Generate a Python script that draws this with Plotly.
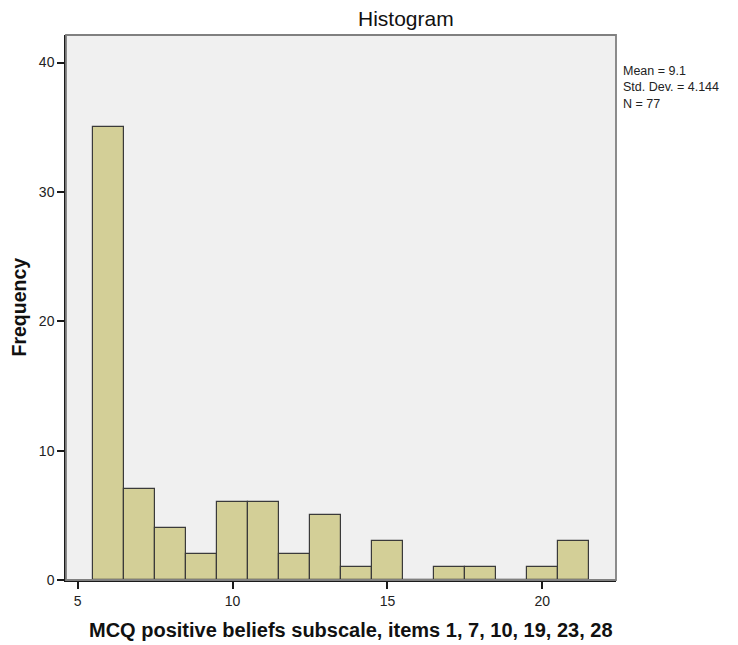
import plotly.graph_objects as go

# Data (bin centres, width 1)
bin_centers = [6, 7, 8, 9, 10, 11, 12, 13, 14, 15, 16, 17, 18, 19, 20, 21]
counts = [35, 7, 4, 2, 6, 6, 2, 5, 1, 3, 0, 1, 1, 0, 1, 3]
x_ticks = [5, 10, 15, 20]
y_ticks = [0, 10, 20, 30, 40]
stats_lines = ["Mean = 9.1", "Std. Dev. = 4.144", "N = 77"]
title_text = "Histogram"
x_title = "MCQ positive beliefs subscale, items 1, 7, 10, 19, 23, 28"
y_title = "Frequency"

# The page body has an 8px margin, so the figure is placed 8px right/down.
OFF = 8
W, H = 738 - OFF, 645 - OFF
PL, PR, PT, PB = 66, 616, 35, 580          # plot box in window pixels
ML, MR, MT, MB = PL - OFF, W - (PR - OFF), PT - OFF, H - (PB - OFF)
plot_w = PR - PL
plot_h = PB - PT

fig = go.Figure()
fig.add_trace(go.Bar(
    x=bin_centers, y=counts, width=1,
    marker=dict(color="#d3cf97", line=dict(color="#3a3a3a", width=1.2)),
    showlegend=False,
))

font_family = "Liberation Sans, Arial, sans-serif"

fig.update_layout(
    width=W, height=H,
    margin=dict(l=ML, r=MR, t=MT, b=MB),
    paper_bgcolor="white",
    plot_bgcolor="#f0f0f0",
    bargap=0,
    font=dict(family=font_family, color="#1a1a1a"),
    xaxis=dict(
        range=[4.622, 22.38], tickmode="array", tickvals=x_ticks,
        ticks="outside", ticklen=7, tickwidth=1.5, tickcolor="#1a1a1a",
        showline=True, linecolor="#1a1a1a", linewidth=1.5,
        showgrid=False, zeroline=False,
        tickfont=dict(size=14, color="#222"),
    ),
    yaxis=dict(
        range=[0, 42.13], tickmode="array", tickvals=y_ticks,
        ticks="outside", ticklen=7, tickwidth=1.5, tickcolor="#1a1a1a",
        showline=True, linecolor="#1a1a1a", linewidth=1.5,
        showgrid=False, zeroline=False,
        tickfont=dict(size=14, color="#222"),
    ),
    shapes=[dict(
        type="rect", xref="paper", yref="paper", x0=0, x1=1, y0=0, y1=1,
        line=dict(color="#808080", width=1.8), layer="above",
        fillcolor="rgba(0,0,0,0)",
    )],
)

annotations = [
    dict(text=title_text, xref="paper", yref="paper",
         x=(406 - PL) / plot_w, y=1, yanchor="middle", xanchor="center",
         yshift=PT - 18, showarrow=False, font=dict(size=21, color="#111")),
    dict(text="<b>" + x_title + "</b>", xref="paper", yref="paper",
         x=(351 - PL) / plot_w, y=0, yanchor="middle", xanchor="center",
         yshift=-(630 - PB), showarrow=False,
         font=dict(size=20, color="#111")),
    dict(text="<b>" + y_title + "</b>", xref="paper", yref="paper",
         x=0, y=0.5, xanchor="center", yanchor="middle", textangle=-90,
         xshift=-(PL - 18), showarrow=False,
         font=dict(size=19.5, color="#111")),
    dict(text="<br>".join(stats_lines), xref="paper", yref="paper",
         x=1, y=1, xanchor="left", yanchor="top", xshift=622 - PR,
         yshift=-(63 - PT), showarrow=False, align="left", borderpad=0,
         font=dict(size=12.5, color="#222")),
]
fig.update_layout(annotations=annotations)

fig.write_html("out.html")
